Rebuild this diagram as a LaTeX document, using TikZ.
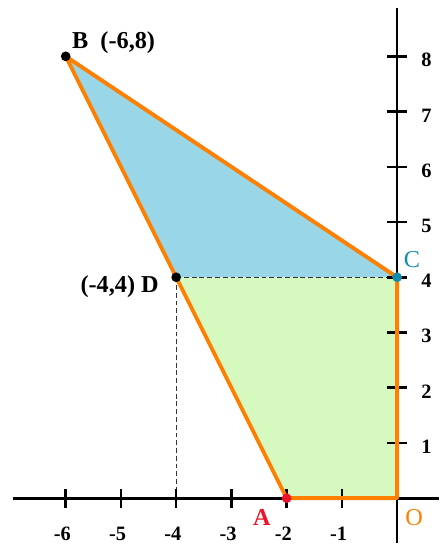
\documentclass[tikz,border=0pt]{standalone}
\usepackage{fontspec}
\setmainfont{Liberation Serif}
\definecolor{edgeor}{RGB}{255,128,0}
\definecolor{fillblue}{RGB}{153,214,232}
\definecolor{fillgreen}{RGB}{214,249,192}
\definecolor{cteal}{RGB}{20,140,175}
\definecolor{ared}{RGB}{235,20,40}
\tikzset{
  axisline/.style={line width=1.4pt, black},
  tickline/.style={line width=1.3pt, black},
  outline/.style={line width=2pt, edgeor, line join=round},
  guide/.style={line width=0.5pt, black!80, dash pattern=on 2.5pt off 1.5pt},
  ticklab/.style={font=\fontsize{10.5}{12}\selectfont\bfseries, anchor=base, inner sep=0pt},
  ptlab/.style={font=\fontsize{12.5}{14}\selectfont\bfseries, inner sep=0pt},
  dot/.style={circle, fill=#1, inner sep=0pt, minimum size=5pt}
}
\begin{document}
\begin{tikzpicture}[x=1cm,y=1cm]
\useasboundingbox (-7.19,-0.92) rectangle (0.76,9.02);
\coordinate (A) at (-2,0);
\coordinate (B) at (-6,8);
\coordinate (C) at (0,4);
\coordinate (D) at (-4,4);
\coordinate (O) at (0,0);
\coordinate (Dx) at (-4,0);
\coordinate (xl) at (-6.96,0);
\coordinate (xr) at (0.76,0);
\coordinate (yt) at (0,8.88);
\coordinate (yb) at (0,-0.82);
% fills
\fill[fillblue] (B) -- (C) -- (D) -- cycle;
\fill[fillgreen] (D) -- (C) -- (O) -- (A) -- cycle;
% guides
\draw[guide] (D) -- (C);
\draw[guide] (D) -- (Dx);
% axes
\draw[axisline] (xl) -- (xr);
\draw[axisline] (yb) -- (yt);
\foreach \i in {1,...,6} {
  \draw[tickline] (-\i,-0.17) -- (-\i,0.17);
  \node[ticklab] (xlab\i) at (-\i,-0.76) {\llap{-}\i};
}
\foreach \j in {1,...,8} {
  \draw[tickline] (-0.18,\j) -- (0.18,\j);
  \node[ticklab] (ylab\j) at (0.53,\j-0.19) {\j};
}
% outline
\draw[outline] (B) -- (C) -- (O) -- (A) -- (D) -- cycle;
% points
\node[dot=black] (pB) at (B) {};
\node[dot=black] (pD) at (D) {};
\node[dot=cteal] (pC) at (C) {};
\node[dot=ared] (pA) at (A) {};
% labels
\node[ptlab, anchor=base west] (lB) at (-5.89,8.15) {B\ \ (-6,8)};
\node[ptlab, anchor=base east] (lD) at (-4.31,3.73) {(-4,4)\ D};
\node[ptlab, anchor=base, text=cteal, font=\fontsize{12.5}{14}\selectfont] (lC) at (0.27,4.18) {C};
\node[ptlab, anchor=base, text=ared] (lA) at (-2.45,-0.49) {A};
\node[ptlab, anchor=base, text=edgeor, font=\fontsize{12.5}{14}\selectfont] (lO) at (0.31,-0.49) {O};
\end{tikzpicture}
\end{document}
